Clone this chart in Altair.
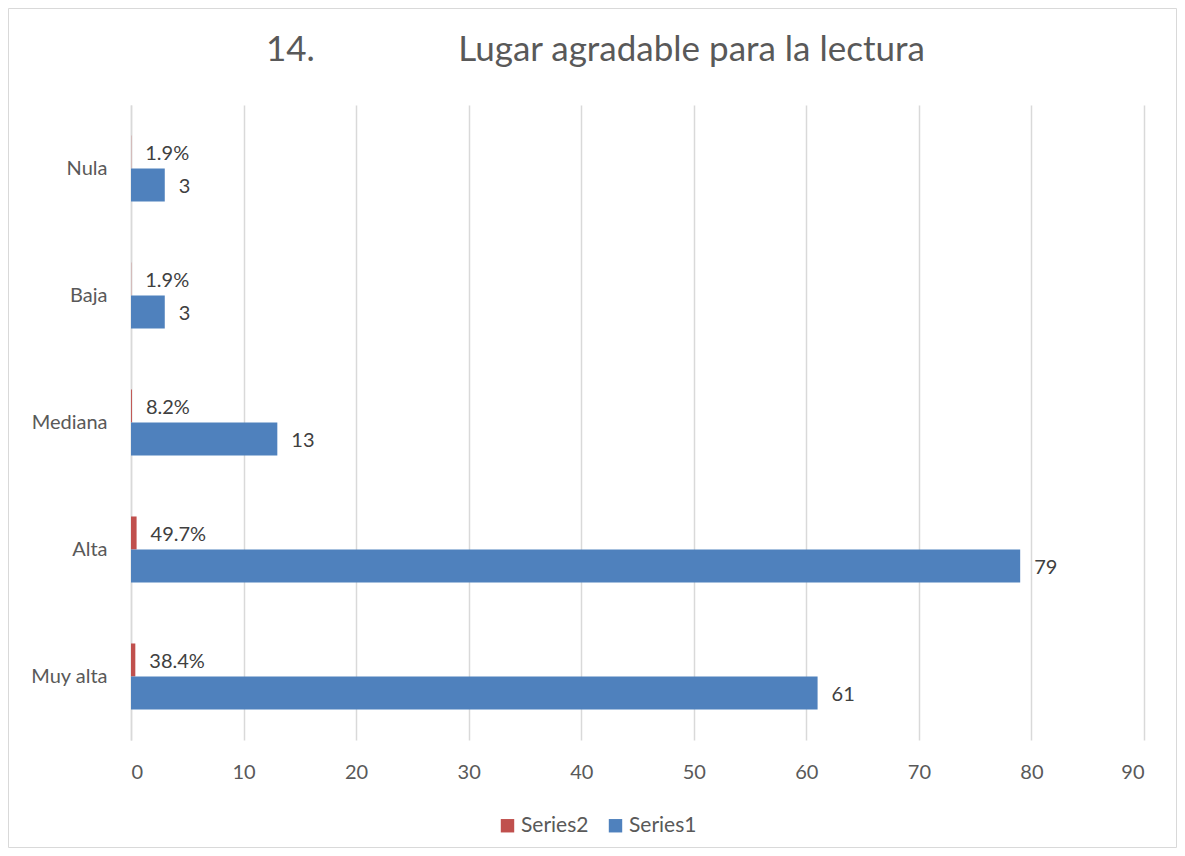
import altair as alt
import pandas as pd

categories = ["Nula", "Baja", "Mediana", "Alta", "Muy alta"]
series1_values = [3, 3, 13, 79, 61]
series2_values = [0.019, 0.019, 0.082, 0.497, 0.384]
series2_labels = ["1.9%", "1.9%", "8.2%", "49.7%", "38.4%"]
series_names = ["Series2", "Series1"]
series_colors = ["#C0504D", "#4F81BD"]
x_ticks = [0, 10, 20, 30, 40, 50, 60, 70, 80, 90]
title_text = "14." + "\u00a0" * 16 + "Lugar agradable para la lectura"

rows = []
for c, v1, v2, l2 in zip(categories, series1_values, series2_values, series2_labels):
    rows.append({"cat": c, "series": "Series2", "value": v2, "label": l2})
    rows.append({"cat": c, "series": "Series1", "value": v1, "label": str(v1)})
df = pd.DataFrame(rows)

FONT = "Lato"
GRID = "#d9d9d9"

base = alt.Chart(df).encode(
    y=alt.Y(
        "cat:N",
        sort=categories,
        scale=alt.Scale(paddingInner=0.48, paddingOuter=0.24),
        axis=alt.Axis(
            title=None, ticks=False, domainColor=GRID, domainWidth=1.5,
            labelPadding=24, labelFontSize=20, labelColor="#595959", labelFont=FONT,
        ),
    ),
    yOffset=alt.YOffset("series:N", sort=series_names,
                        scale=alt.Scale(paddingInner=0, paddingOuter=0)),
)

bars = base.mark_bar().encode(
    x=alt.X(
        "value:Q",
        scale=alt.Scale(domain=[0, 90], nice=False),
        axis=alt.Axis(
            values=x_ticks, title=None, grid=True, gridColor=GRID, gridWidth=1.5,
            domain=False, ticks=False, labelPadding=22, labelFontSize=20,
            labelColor="#595959", labelFont=FONT,
        ),
    ),
    color=alt.Color(
        "series:N",
        scale=alt.Scale(domain=series_names, range=series_colors),
        legend=alt.Legend(
            title=None, orient="none", legendX=366, legendY=710,
            direction="horizontal", symbolType="square", symbolSize=180,
            symbolStrokeWidth=0, labelFontSize=21, labelFont=FONT,
            labelColor="#595959", columnPadding=16, labelOffset=3,
        ),
    ),
)

text = base.mark_text(align="left", dx=14, dy=2, fontSize=20, color="#404040", font=FONT).encode(
    x="value:Q", text="label:N"
)

border = alt.Chart(alt.Data(values=[{}])).mark_rect(
    fill=None, stroke="#d9d9d9", strokeWidth=1
).encode(
    x=alt.value(-122.5), x2=alt.value(1045.5), y=alt.value(-96.5), y2=alt.value(742.5)
)

chart = alt.layer(bars, text, border).properties(
    width=1013,
    height=635,
    autosize=alt.AutoSizeParams(type="none"),
    padding={"left": 123, "top": 97, "right": 33, "bottom": 108},
    title=alt.TitleParams(
        text=title_text, anchor="start", frame="group", dx=135, offset=-60,
        fontSize=35, font=FONT, color="#595959", fontWeight="normal",
    ),
).configure_view(stroke=None)

chart.save("out.html", embed_options={"renderer": "svg", "actions": False})
